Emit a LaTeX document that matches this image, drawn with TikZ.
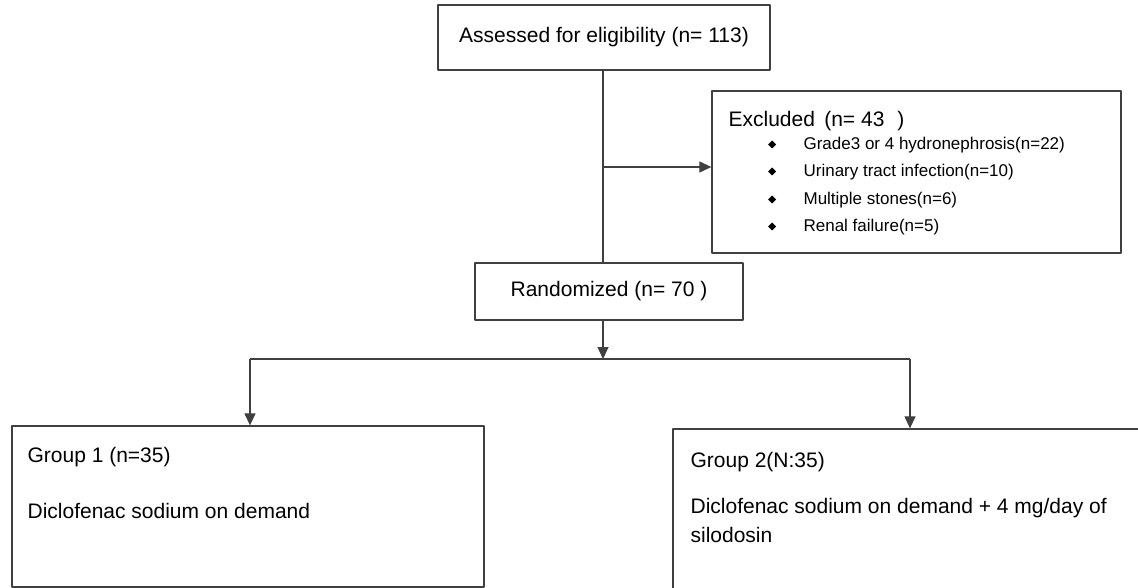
\documentclass[tikz,border=0pt]{standalone}
\usepackage{fontspec}
\setmainfont{Liberation Sans}
\usetikzlibrary{arrows.meta,positioning}
\begin{document}
\begin{tikzpicture}[x=1pt,y=-1pt,font=\fontsize{21}{29}\selectfont,line join=round,
  line width=1.2pt,>={Triangle[length=12pt,width=11pt]},
  box/.style={draw=black!75,line width=1.3pt,fill=white,inner sep=0pt},
  txt/.style={anchor=base west,inner sep=0pt},
  item/.style={txt,font=\fontsize{17}{20}\selectfont}]
\useasboundingbox (0,0) rectangle (1138,588);
\clip (0,0) rectangle (1138,588);
% boxes
\node[box,minimum width=332pt,minimum height=65pt] (assess) at (604,37.5) {Assessed for eligibility (n= 113)};
\node[box,minimum width=409pt,minimum height=162pt] (excl) at (916.5,172) {};
\node[box,minimum width=268pt,minimum height=57pt] (rand) at (609,291.5) {Randomized (n= 70 )};
\node[box,minimum width=472pt,minimum height=161pt] (grpA) at (248,506.5) {};
\node[box,minimum width=480pt,minimum height=170pt] (grpB) at (913,514) {};
% texts in boxes
\node[txt] (exclT) at (728,127) {Excluded\, (n= 43\,\, )};
\foreach \t/\y in {Grade3 or 4 hydronephrosis(n=22)/150,Urinary tract infection(n=10)/177,
  Multiple stones(n=6)/205,Renal failure(n=5)/232}
  {\node[item] at (803,\y) {\t};
   \fill (772,\y-9.5) -- (776,\y-5.5) -- (772,\y-1.5) -- (768,\y-5.5) -- cycle;}
\node[txt] (grpAa) at (27,462) {Group 1 (n=35)};
\node[txt] (grpAb) at (27,518) {Diclofenac sodium on demand};
\node[txt] (grpBa) at (690,467) {Group 2(N:35)};
\node[txt] (grpBb) at (690,513) {Diclofenac sodium on demand + 4 mg/day of};
\node[txt] (grpBc) at (690,542) {silodosin};
% connectors
\coordinate (split) at (603,167);
\coordinate (fork) at (603,359);
\draw[draw=black!75] (assess.south-|split) -- (rand.north-|split);
\draw[->,draw=black!75] (split) -- (excl.west|-split);
\draw[->,draw=black!75] (rand.south-|fork) -- (fork);
\draw[draw=black!75] (250,359) -- (910,359);
\draw[->,draw=black!75] (250,359) -- (grpA.north-|250,0);
\draw[->,draw=black!75] (910,359) -- (grpB.north-|910,0);
\end{tikzpicture}
\end{document}
